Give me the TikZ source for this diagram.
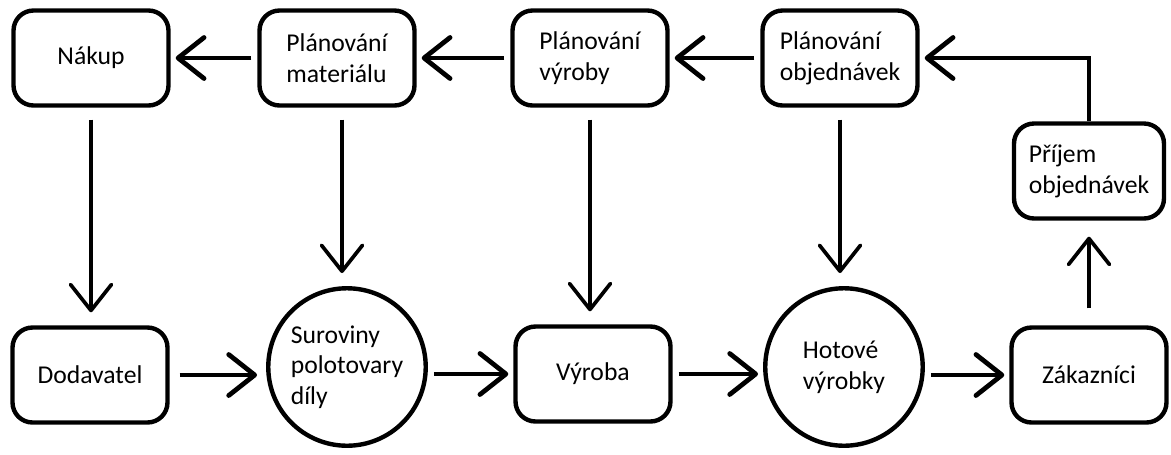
\documentclass[tikz,border=0pt]{standalone}
\usepackage{fontspec}
\setmainfont{Carlito}
\usetikzlibrary{arrows.meta}

\tikzset{
  box/.style={draw, rounded corners=0.4cm, line width=2.5pt, minimum width=3.1cm, minimum height=1.9cm, align=left, font=\fontsize{14.6}{17.5}\selectfont},
  kruh/.style={draw, circle, line width=2.5pt, minimum size=3.15cm, inner sep=0pt, align=left, font=\fontsize{14.6}{17.5}\selectfont},
  sipka/.style={line width=2.7pt, -{Straight Barb[length=0.52cm,width=0.82cm,round]}, shorten <=0.12cm, shorten >=0.1cm},
  svisla/.style={sipka, line width=2.1pt, shorten <=0.24cm, shorten >=0.26cm}
}

\begin{document}
\begin{tikzpicture}[x=0.02cm, y=-0.02cm]
\useasboundingbox (0,0) rectangle (1171,454);
\node[box] (nakup) at (91,58) {Nákup};
\node[box] (planmat) at (337,58) {Plánování\\materiálu};
\node[box] (planvyr) at (590,58) {Plánování\\výroby};
\node[box] (planobj) at (840,58) {Plánování\\objednávek};
\node[box, minimum width=3.0cm] (prijem) at (1089,171) {Příjem\\objednávek};
\node[box] (dodavatel) at (90,375) {Dodavatel};
\node[kruh] (suroviny) at (347,367) {Suroviny\\polotovary\\díly};
\node[box] (vyroba) at (593,374) {Výroba};
\node[kruh] (hotove) at (844,367) {Hotové\\výrobky};
\node[box] (zakaznici) at (1089,375) {Zákazníci};

\draw[sipka] (planmat.west) -- (nakup.east);
\draw[sipka] (planvyr.west) -- (planmat.east);
\draw[sipka] (planobj.west) -- (planvyr.east);
\draw[sipka, shorten <=0pt] (prijem.north) |- (planobj.east);

\draw[svisla] (nakup.south) -- (nakup.south |- dodavatel.north);
\draw[svisla] ([xshift=0.1cm]planmat.south) -- ([xshift=0.1cm]planmat.south |- suroviny.north);
\draw[svisla] (planvyr.south) -- (planvyr.south |- vyroba.north);
\draw[svisla] (planobj.south) -- (planobj.south |- hotove.north);
\draw[svisla, shorten <=0.34cm, shorten >=0.32cm] (zakaznici.north) -- (zakaznici.north |- prijem.south);

\draw[sipka, shorten <=0.2cm, shorten >=0.18cm] (dodavatel.east) -- (dodavatel.east -| suroviny.west);
\draw[sipka] (suroviny.east |- vyroba.west) -- (vyroba.west);
\draw[sipka] (vyroba.east) -- (vyroba.east -| hotove.west);
\draw[sipka] (hotove.east |- zakaznici.west) -- (zakaznici.west);
\end{tikzpicture}
\end{document}
